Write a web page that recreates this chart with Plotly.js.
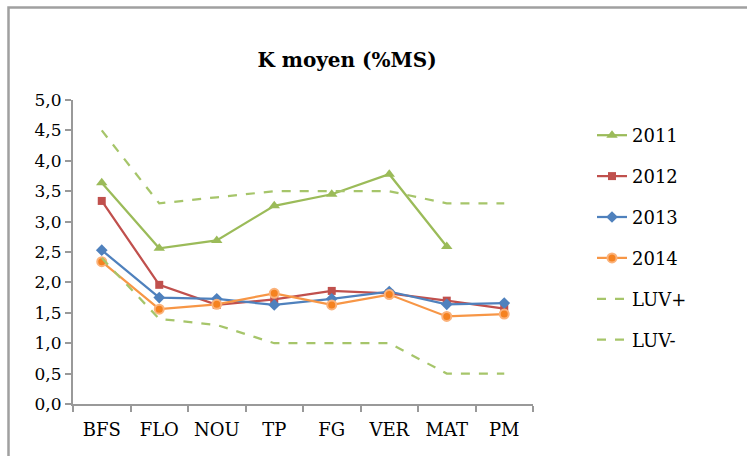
<!DOCTYPE html>
<html><head><meta charset="utf-8">
<script src="https://cdn.plot.ly/plotly-3.0.1.min.js"></script>
<style>html,body{margin:0;padding:0;background:#fff}#chart{width:747px;height:456px}</style>
</head><body><div id="chart"></div>
<script>
const categories = ["BFS","FLO","NOU","TP","FG","VER","MAT","PM"];
const y2011 = [3.64, 2.56, 2.69, 3.26, 3.45, 3.78, 2.59, null];
const y2012 = [3.34, 1.96, 1.63, 1.72, 1.86, 1.82, 1.70, 1.57];
const y2013 = [2.53, 1.75, 1.73, 1.63, 1.73, 1.85, 1.64, 1.66];
const y2014 = [2.34, 1.56, 1.64, 1.82, 1.63, 1.80, 1.44, 1.48];
const luvPlus = [4.5, 3.3, 3.4, 3.5, 3.5, 3.5, 3.3, 3.3];
const luvMinus = [2.4, 1.4, 1.3, 1.0, 1.0, 1.0, 0.5, 0.5];
const seriesNames = ["2011","2012","2013","2014","LUV+","LUV-"];

const SERIF = "DejaVu Serif";
const L=73, R=214, T=100, B=52, W=747-L-R, H=456-T-B;
function px2x(p){return (p-L)/W;}
function py2y(p){return (456-B-p)/H;}

const traces = [
  {y:y2011, name:seriesNames[0], line:{color:"#9BBB59",width:2.25}, marker:{symbol:"triangle-up",size:10,color:"#9BBB59"}, mode:"lines+markers"},
  {y:y2012, name:seriesNames[1], line:{color:"#C0504D",width:2.25}, marker:{symbol:"square",size:8,color:"#C0504D"}, mode:"lines+markers"},
  {y:y2013, name:seriesNames[2], line:{color:"#4F81BD",width:2.25}, marker:{symbol:"diamond",size:9,color:"#4F81BD"}, mode:"lines+markers"},
  {y:y2014, name:seriesNames[3], line:{color:"#F79646",width:2.25}, marker:{symbol:"circle",size:9,color:"#F58220",line:{color:"#FBB27A",width:2}}, mode:"lines+markers"},
  {y:luvPlus, name:seriesNames[4], line:{color:"#A6C56A",width:2.25,dash:"dash"}, mode:"lines"},
  {y:luvMinus, name:seriesNames[5], line:{color:"#A6C56A",width:2.25,dash:"dash"}, mode:"lines"}
].map((t,i)=>Object.assign({x:categories, type:"scatter", legendgroup:"g"+i, connectgaps:false}, t));

const layout = {
  width:747, height:456,
  margin:{l:L, r:R, t:T, b:B},
  paper_bgcolor:"#fff", plot_bgcolor:"#fff",
  separators:", ",
  font:{family:SERIF, color:"#000", size:18},
  title:{text:"<b>K moyen (%MS)</b>", font:{size:20, family:SERIF, color:"#000"},
         x:px2x(347), xref:"paper", xanchor:"center", y:1-60/456, yref:"container", yanchor:"middle"},
  xaxis:{type:"category", range:[-0.5,7.5], showgrid:false, zeroline:false,
         showline:true, linecolor:"#999", linewidth:2, ticks:"outside", tickson:"boundaries",
         ticklen:6, tickwidth:2, tickcolor:"#999", tickfont:{size:18, family:SERIF},
         tickangle:0, ticklabelstandoff:8, fixedrange:true},
  yaxis:{range:[0,5], dtick:0.5, tick0:0, tickformat:".1f", showgrid:false, zeroline:false,
         showline:true, linecolor:"#999", linewidth:2, ticks:"outside", ticklen:6, tickwidth:2,
         tickcolor:"#999", tickfont:{size:17, family:SERIF}, fixedrange:true},
  showlegend:true,
  legend:{x:px2x(592), xanchor:"left", y:py2y(117), yanchor:"top", traceorder:"grouped",
          tracegroupgap:14.5, font:{size:18, family:SERIF}, bgcolor:"rgba(0,0,0,0)"},
  shapes:[{type:"rect", xref:"paper", yref:"paper", x0:px2x(8.5), y0:-1, x1:3, y1:py2y(7.5),
           line:{color:"#A0A0A0", width:2.5}, layer:"below"}]
};
Plotly.newPlot("chart", traces, layout, {displayModeBar:false, staticPlot:true});
</script></body></html>
